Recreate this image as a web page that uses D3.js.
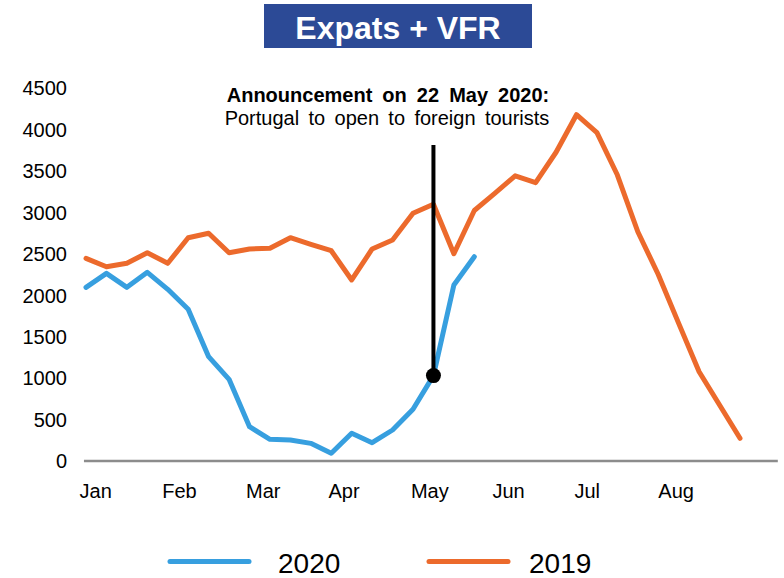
<!DOCTYPE html>
<html>
<head>
<meta charset="utf-8">
<script src="https://cdn.jsdelivr.net/npm/d3@7"></script>
<style>
  html, body { margin: 0; padding: 0; background: #fff; }
  svg { display: block; font-family: "Liberation Sans", Arial, sans-serif; }
</style>
</head>
<body>
<svg id="chart" width="784" height="578"></svg>
<script>
// ---- data (weekly values, index 0 = first week of January) ----
const weeks2020 = d3.range(20);
const values2020 = [2095, 2264, 2095, 2276, 2071, 1830, 1259, 985, 414, 262,
                    253, 213, 93, 334, 221, 374, 624, 1030, 2123, 2465];
const weeks2019 = d3.range(33);
const values2019 = [2445, 2344, 2385, 2513, 2385, 2694, 2747, 2513, 2558, 2566,
                    2694, 2614, 2537, 2184, 2558, 2666, 2988, 3097, 2500, 3022,
                    3228, 3440, 3358, 3725, 4178, 3961, 3450, 2766, 2250, 1660,
                    1077, 676, 274];
const monthLabels = ["Jan", "Feb", "Mar", "Apr", "May", "Jun", "Jul", "Aug"];
const monthTickPos = [0.45, 4.55, 8.65, 12.6, 16.8, 20.65, 24.5, 28.85];
const yTicks = [0, 500, 1000, 1500, 2000, 2500, 3000, 3500, 4000, 4500];
const seriesNames = ["2020", "2019"];
const announceWeek = 17;
const announceLines = ["Announcement on 22 May 2020:", "Portugal to open to foreign tourists"];
const titleText = "Expats + VFR";

const colors = { "2020": "#379fdf", "2019": "#ec6a2c" };

const svg = d3.select("#chart");
const x = d3.scaleLinear().domain([0, 32]).range([86, 740]);
const y = d3.scaleLinear().domain([0, 4500]).range([461, 88]);

// Title box
svg.append("rect").attr("x", 264).attr("y", 4).attr("width", 268).attr("height", 44)
  .attr("fill", "#2c4a96");
svg.append("text").attr("x", 398).attr("y", 39).attr("text-anchor", "middle")
  .attr("fill", "#fff").attr("font-weight", "bold").attr("font-size", 32)
  .text(titleText);

// Y axis labels (no axis line)
const yAxis = d3.axisLeft(y).tickValues(yTicks).tickFormat(d3.format("d"))
  .tickSize(0).tickPadding(0);
const gy = svg.append("g").attr("transform", "translate(67,0)").call(yAxis);
gy.select(".domain").remove();
gy.selectAll("text").attr("font-size", 20).attr("fill", "#000")
  .attr("font-family", "Liberation Sans, Arial, sans-serif").attr("dy", "0.34em");

// X axis line + month labels
svg.append("line").attr("x1", x(-0.1)).attr("x2", x(33.85))
  .attr("y1", y(0)).attr("y2", y(0))
  .attr("stroke", "#8c8c8c").attr("stroke-width", 2.5);
const xAxis = d3.axisBottom(x).tickValues(monthTickPos)
  .tickFormat((d, i) => monthLabels[i]).tickSize(0).tickPadding(0);
const gx = svg.append("g").attr("transform", "translate(0,484)").call(xAxis);
gx.select(".domain").remove();
gx.selectAll("text").attr("font-size", 20).attr("fill", "#000")
  .attr("font-family", "Liberation Sans, Arial, sans-serif").attr("dy", "0.71em");

// Lines
const line = d3.line().x(d => x(d[0])).y(d => y(d[1]));
const data2019 = weeks2019.map((w, i) => [w, values2019[i]]);
const data2020 = weeks2020.map((w, i) => [w, values2020[i]]);
svg.append("path").datum(data2019).attr("d", line)
  .attr("fill", "none").attr("stroke", colors["2019"]).attr("stroke-width", 5)
  .attr("stroke-linejoin", "round").attr("stroke-linecap", "round");
svg.append("path").datum(data2020).attr("d", line)
  .attr("fill", "none").attr("stroke", colors["2020"]).attr("stroke-width", 5)
  .attr("stroke-linejoin", "round").attr("stroke-linecap", "round");

// Annotation
const ax = x(announceWeek);
const ay = y(values2020[announceWeek]);
svg.append("line").attr("x1", ax).attr("x2", ax).attr("y1", y(3812)).attr("y2", ay)
  .attr("stroke", "#000").attr("stroke-width", 4);
svg.append("circle").attr("cx", ax).attr("cy", ay).attr("r", 7.5).attr("fill", "#000");
svg.append("text").attr("x", 388).attr("y", 102).attr("text-anchor", "middle")
  .attr("font-size", 20).attr("font-weight", "bold").attr("word-spacing", 4.5)
  .text(announceLines[0]);
svg.append("text").attr("x", 387).attr("y", 125).attr("text-anchor", "middle")
  .attr("font-size", 20).attr("word-spacing", 3.8)
  .text(announceLines[1]);

// Legend
const legendX = [{ lx: 170, tx: 278 }, { lx: 429, tx: 529 }];
seriesNames.forEach((name, i) => {
  svg.append("line").attr("x1", legendX[i].lx).attr("x2", legendX[i].lx + 79)
    .attr("y1", 561.5).attr("y2", 561.5)
    .attr("stroke", colors[name]).attr("stroke-width", 5).attr("stroke-linecap", "round");
  svg.append("text").attr("x", legendX[i].tx).attr("y", 572.5)
    .attr("font-size", 28).attr("fill", "#000").text(name);
});
</script>
</body>
</html>
